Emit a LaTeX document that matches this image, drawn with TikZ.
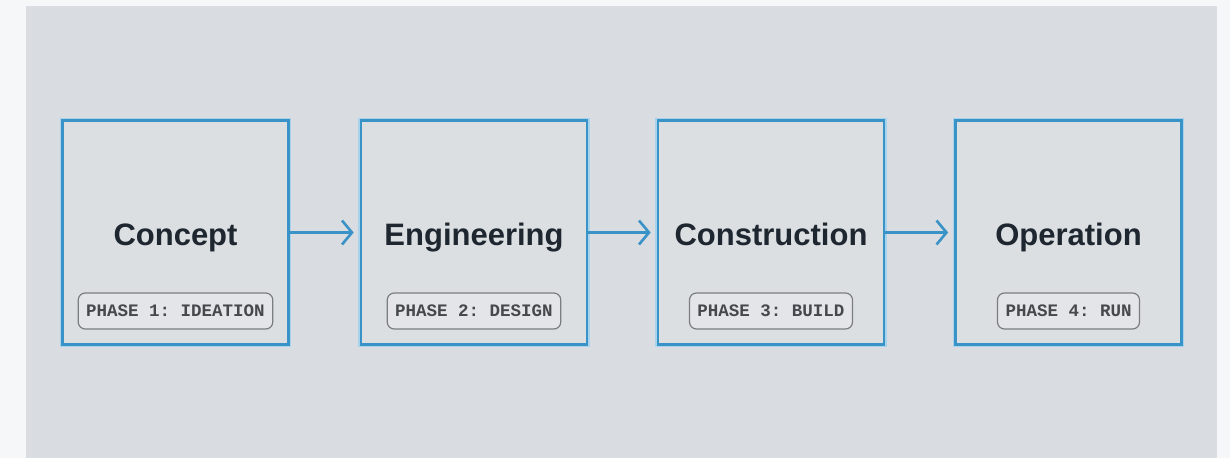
\documentclass[tikz,border=0pt]{standalone}
\usepackage{fontspec}
\setmainfont{Liberation Sans}
\setmonofont{Liberation Mono}
\usetikzlibrary{arrows.meta}
\definecolor{pagebg}{HTML}{F6F7F8}
\definecolor{panel}{HTML}{D9DCE0}
\definecolor{boxfill}{HTML}{DCDFE2}
\definecolor{edgeblue}{HTML}{3A93C6}
\definecolor{glowblue}{HTML}{A8D3EC}
\definecolor{titleink}{HTML}{1E2630}
\definecolor{tagfill}{HTML}{E3E5E8}
\definecolor{tagline}{HTML}{7A7D82}
\definecolor{tagink}{HTML}{45484D}
\tikzset{
  phasebox/.style={draw=edgeblue, line width=2.6pt, fill=boxfill,
    minimum width=226pt, minimum height=224pt, inner sep=0pt,
    preaction={draw=glowblue, line width=5.5pt}},
  phasetitle/.style={font=\fontsize{31}{36}\selectfont\bfseries, text=titleink,
    inner sep=0pt, anchor=base},
  phasetag/.style={draw=tagline, line width=1.2pt, fill=tagfill, rounded corners=7pt,
    font=\ttfamily\bfseries\fontsize{17.5}{20}\selectfont, text=tagink,
    inner xsep=8pt, minimum height=36pt, inner ysep=0pt},
  flow/.style={draw=edgeblue, line width=2.6pt,
    -{Straight Barb[length=10pt, width=24pt, line width=2.6pt]}}
}
\begin{document}
\begin{tikzpicture}[x=1pt, y=-1pt]
  % page and panel
  \fill[pagebg] (0,0) rectangle (1230,458);
  \fill[panel] (26,6) rectangle (1217,458);
  \useasboundingbox (0,0) rectangle (1230,458);

  % phase boxes
  \node[phasebox] (b1) at (175.5,232.5) {};
  \node[phasebox] (b2) at (474,232.5) {};
  \node[phasebox] (b3) at (771,232.5) {};
  \node[phasebox] (b4) at (1068.5,232.5) {};

  % titles, sharing one baseline
  \node[phasetitle] (t1) at (175.5,245) {Concept};
  \node[phasetitle] (t2) at (474,245) {Engineering};
  \node[phasetitle] (t3) at (771,245) {Construction};
  \node[phasetitle] (t4) at (1068.5,245) {Operation};

  % phase tags
  \node[phasetag] (p1) at (175.5,311) {PHASE 1: IDEATION};
  \node[phasetag] (p2) at (474,311) {PHASE 2: DESIGN};
  \node[phasetag] (p3) at (771,311) {PHASE 3: BUILD};
  \node[phasetag] (p4) at (1068.5,311) {PHASE 4: RUN};

  % connectors
  \draw[flow] (b1.east) -- ([xshift=-6pt]b2.west);
  \draw[flow] (b2.east) -- ([xshift=-6pt]b3.west);
  \draw[flow] (b3.east) -- ([xshift=-6pt]b4.west);
\end{tikzpicture}
\end{document}
